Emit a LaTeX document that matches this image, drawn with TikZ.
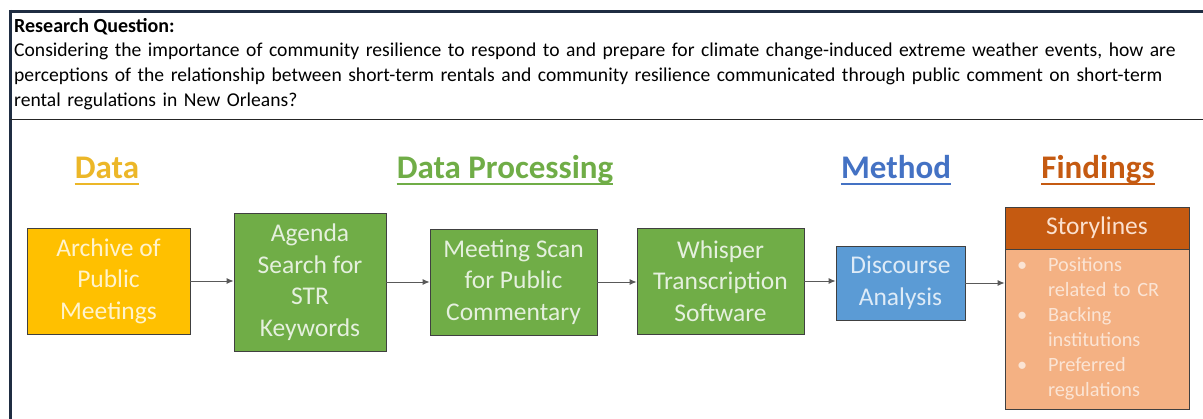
\documentclass[tikz,border=0pt]{standalone}
\usepackage{fontspec}
\setmainfont{Carlito}
\usepackage{tikz}
\usetikzlibrary{arrows.meta}
\definecolor{framenavy}{RGB}{31, 45, 66}
\definecolor{datagold}{RGB}{236, 183, 40}
\definecolor{procgreen}{RGB}{112, 173, 71}
\definecolor{methblue}{RGB}{68, 114, 196}
\definecolor{findorange}{RGB}{197, 90, 17}
\definecolor{archivefill}{RGB}{255, 192, 0}
\definecolor{discfill}{RGB}{91, 155, 213}
\definecolor{storyfill}{RGB}{244, 177, 131}
\definecolor{arrowgray}{RGB}{89, 89, 89}

\begin{document}
\begin{tikzpicture}[x=1pt, y=-1pt,
    box/.style={draw=black!75, line width=0.8pt, align=center, inner sep=0pt,
                font=\fontsize{25.5}{31.5}\selectfont},
    heading/.style={anchor=base, inner sep=0pt, font=\fontsize{33}{40}\selectfont\bfseries},
    flow/.style={draw=arrowgray, line width=0.9pt, -{Latex[length=7pt, width=6pt]}}]
            \useasboundingbox (0, 0) rectangle (1203, 419);
            \fill[white] (0, 0) rectangle (1203, 419);
            % Outer frame & divider
            \draw[color=framenavy, line width=3pt]   (10.5, 10) -- (10.5, 419);
            \draw[color=framenavy, line width=3pt]   (9, 11.5) -- (1203, 11.5);
            \draw[color=black!85,  line width=1.3pt] (10, 119.5) -- (1203, 119.5);
            % Research question
            \node[anchor=base west, inner sep=0pt, font=\fontsize{20}{24}\selectfont\bfseries]
                 (rqtitle) at (14, 33) {Research Question:};
            \node[anchor=base west, inner sep=0pt, text width=1178pt, align=left,
                  font=\fontsize{19.6}{25}\selectfont] (rqtext) at (14, 57)
                 {\makebox[1178pt][s]{Considering the importance of community resilience to respond to and prepare for climate change-induced extreme weather events, how are}\\
                  \makebox[1178pt][s]{perceptions of the relationship between short-term rentals and community resilience communicated through public comment on short-term}\\
                  rental regulations in New Orleans?};
            % Stage headings
            \node[heading, color=datagold]   (hdata)   at ( 107, 179) {Data};
            \node[heading, color=procgreen]  (hproc)   at ( 505, 179) {Data Processing};
            \node[heading, color=methblue]   (hmeth)   at ( 896, 179) {Method};
            \node[heading, color=findorange] (hfind)   at (1098, 179) {Findings};
            \draw[color=datagold,   line width=1.5pt] ([yshift=-5pt]hdata.base west) -- ([yshift=-5pt]hdata.base east);
            \draw[color=procgreen,  line width=1.5pt] ([yshift=-5pt]hproc.base west) -- ([yshift=-5pt]hproc.base east);
            \draw[color=methblue,   line width=1.5pt] ([yshift=-5pt]hmeth.base west) -- ([yshift=-5pt]hmeth.base east);
            \draw[color=findorange, line width=1.5pt] ([yshift=-5pt]hfind.base west) -- ([yshift=-5pt]hfind.base east);
            % Data
            \node[box, fill=archivefill, text=archivefill!20, minimum width=163pt, minimum height=106pt]
                 (archive) at (108.5, 281) {Archive of\\Public\\Meetings};
            % Data processing
            \node[box, fill=procgreen, text=procgreen!18, minimum width=152pt, minimum height=138pt]
                 (agenda) at (310, 282) {Agenda\\Search for\\STR\\Keywords};
            \node[box, fill=procgreen, text=procgreen!18, minimum width=167pt, minimum height=106pt]
                 (meeting) at (513.5, 282) {Meeting Scan\\for Public\\Commentary};
            \node[box, fill=procgreen, text=procgreen!18, minimum width=167pt, minimum height=106pt]
                 (whisper) at (720.5, 281) {Whisper\\Transcription\\Software};
            % Method
            \node[box, fill=discfill, text=discfill!20, minimum width=129pt, minimum height=74pt]
                 (discourse) at (900.5, 283) {Discourse\\Analysis};
            % Findings
            \node[box, fill=findorange, text=storyfill!40, minimum width=184pt, minimum height=42pt]
                 (storyhead) at (1097, 228) {Storylines};
            \node[box, fill=storyfill, text=storyfill!35, minimum width=184pt, minimum height=160pt,
                  text width=160pt, align=left, font=\fontsize{20.3}{25}\selectfont]
                 (storybody) at (1097, 329)
                 {\makebox[31pt][l]{\textbullet}Positions\\ \hspace*{31pt}related to CR\\
                  \makebox[31pt][l]{\textbullet}Backing\\ \hspace*{31pt}institutions\\
                  \makebox[31pt][l]{\textbullet}Preferred\\ \hspace*{31pt}regulations};
            % Flow
            \draw[flow] (archive.east)   -- (archive.east -| agenda.west);
            \draw[flow] (agenda.east)    -- (agenda.east -| meeting.west);
            \draw[flow] (meeting.east)   -- (meeting.east -| whisper.west);
            \draw[flow] (whisper.east)   -- (whisper.east -| discourse.west);
            \draw[flow] (discourse.east) -- (discourse.east -| storybody.west);
\end{tikzpicture}
\end{document}
